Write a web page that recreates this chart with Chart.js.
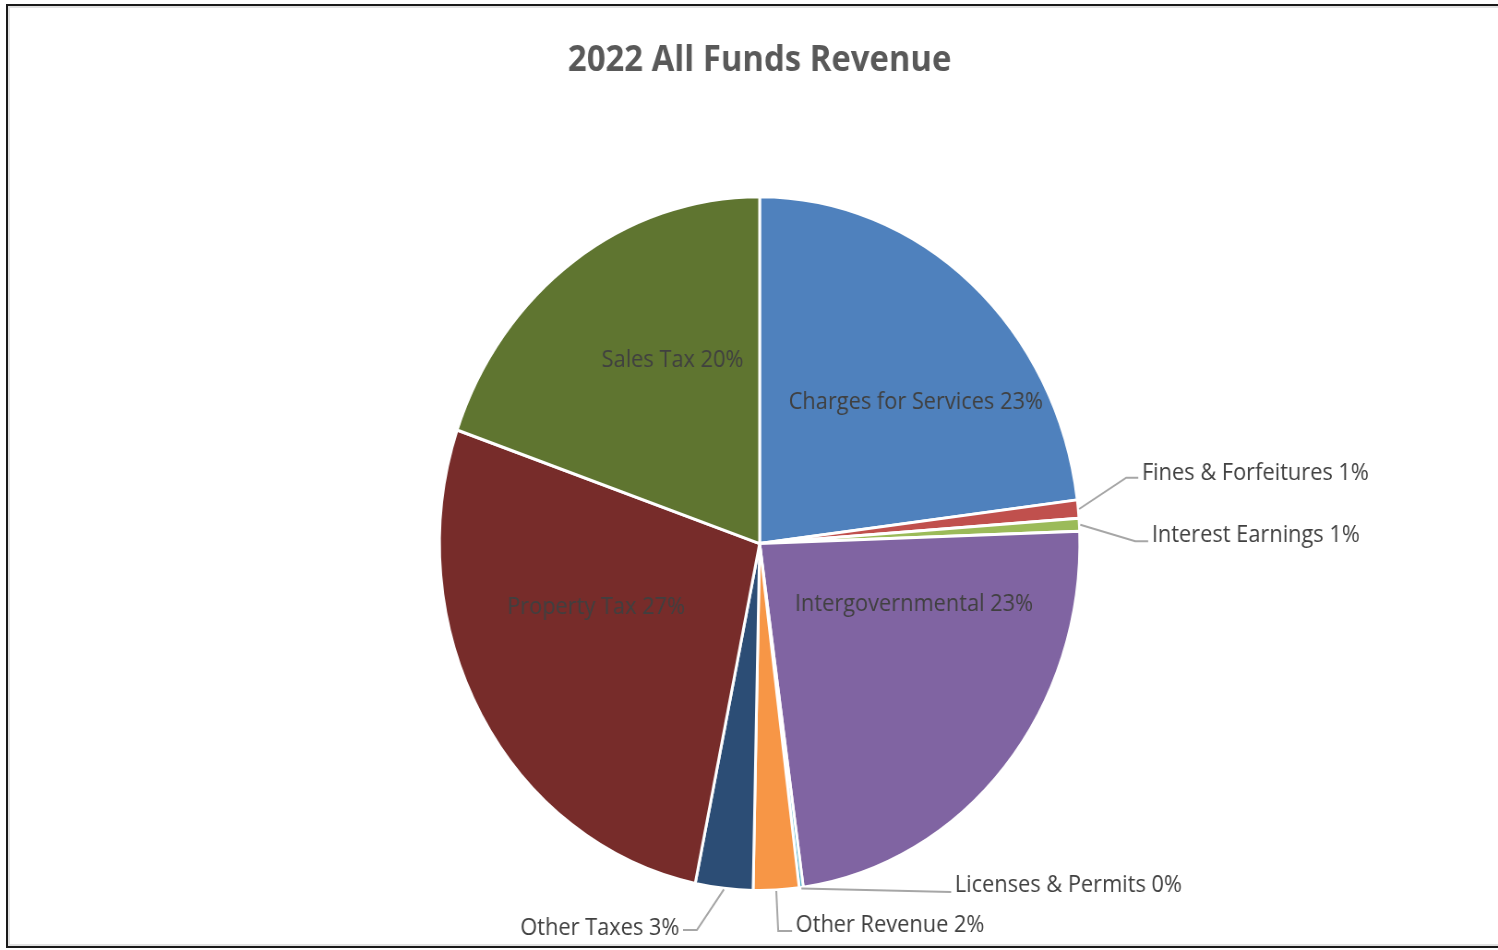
<!DOCTYPE html>
<html>
<head>
<meta charset="utf-8">
<title>2022 All Funds Revenue</title>
<script src="https://cdn.jsdelivr.net/npm/chart.js@4.4.1/dist/chart.umd.min.js"></script>
<style>
  html, body { margin: 0; padding: 0; background: #fff; overflow: hidden; }
  body { width: 1498px; height: 950px; position: relative; }
  .frame {
    position: absolute; left: 6px; top: 4px; width: 1600px; height: 944px;
    box-sizing: border-box; border: 2px solid #1a1a1a;
    box-shadow: inset 0 0 0 2px #e2e2e2;
  }
  #revenueChart {
    position: absolute; left: 0; top: 0;
    width: 1625px; height: 950px;
    transform: scaleX(0.923); transform-origin: 0 0;
  }
</style>
</head>
<body>
<div class="frame"></div>
<canvas id="revenueChart" width="1625" height="950"></canvas>
<script>
const categories = [
  'Charges for Services', 'Fines & Forfeitures', 'Interest Earnings', 'Intergovernmental',
  'Licenses & Permits', 'Other Revenue', 'Other Taxes', 'Property Tax', 'Sales Tax'
];
const values = [23.0, 0.85, 0.6, 23.4, 0.2, 2.3, 2.9, 27.1, 19.7];
const colors = ['#4F81BD', '#C0504D', '#9BBB59', '#8064A2', '#4BACC6', '#F79646', '#2C4D75', '#772C2A', '#5F7530'];

// where each label goes: inside slices (t along arc, r of radius) or outside with a leader line
const placements = [
  { inside: true, t: 0.6, r: 0.64 },
  { ex: 1.145, ey: -0.19, h: 13, dy: -7 },
  { ex: 1.173, ey: -0.007, h: 14, dy: -8 },
  { inside: true, t: 0.25, r: 0.51 },
  { ex: 0.598, ey: 1.004, h: 0, dy: -9 },
  { ex: 0.058, ey: 1.117, h: 15, dy: -8 },
  { ex: -0.196, ey: 1.114, h: -15, dy: -4 },
  { inside: true, t: 0.61, r: 0.54 },
  { inside: true, t: 0.62, r: 0.60 }
];

const sliceLabels = {
  id: 'sliceLabels',
  afterDatasetsDraw(chart) {
    const ctx = chart.ctx;
    const arcs = chart.getDatasetMeta(0).data;
    const total = values.reduce((a, b) => a + b, 0);
    const shift = 2.5; // text sits a touch below the em middle
    ctx.save();
    ctx.font = '23.6px "Open Sans"';
    ctx.fillStyle = '#404040';
    ctx.strokeStyle = '#A6A6A6';
    ctx.lineWidth = 2;
    ctx.textBaseline = 'middle';
    arcs.forEach((arc, i) => {
      const p = arc.getProps(['x', 'y', 'startAngle', 'endAngle', 'outerRadius'], true);
      const text = `${categories[i]} ${Math.round(values[i] / total * 100)}%`;
      const pl = placements[i];
      if (pl.inside) {
        const a = p.startAngle + pl.t * (p.endAngle - p.startAngle);
        const r = pl.r * p.outerRadius;
        ctx.textAlign = 'center';
        ctx.fillText(text, p.x + Math.cos(a) * r, p.y + Math.sin(a) * r + shift);
        return;
      }
      const mid = (p.startAngle + p.endAngle) / 2;
      const sx = p.x + Math.cos(mid) * (p.outerRadius + 1);
      const sy = p.y + Math.sin(mid) * (p.outerRadius + 1);
      const ex = p.x + pl.ex * p.outerRadius;
      const ey = p.y + pl.ey * p.outerRadius;
      const hx = ex + pl.h;
      ctx.beginPath();
      ctx.moveTo(sx, sy);
      ctx.lineTo(ex, ey);
      ctx.lineTo(hx, ey);
      ctx.stroke();
      const left = pl.h < 0;
      ctx.textAlign = left ? 'right' : 'left';
      ctx.fillText(text, hx + (left ? -4 : 4), ey + pl.dy + shift);
    });
    ctx.restore();
  }
};

new Chart(document.getElementById('revenueChart'), {
  type: 'pie',
  data: {
    labels: categories,
    datasets: [{
      data: values,
      backgroundColor: colors,
      borderColor: '#ffffff',
      borderWidth: 3
    }]
  },
  options: {
    responsive: false,
    animation: false,
    layout: { padding: { left: 21, right: 0, top: 0, bottom: 58 } },
    plugins: {
      legend: { display: false },
      tooltip: { enabled: false },
      title: {
        display: true,
        text: '2022 All Funds Revenue',
        color: '#595959',
        font: { family: 'Open Sans', size: 35.6, weight: 'bold', lineHeight: 1.2 },
        padding: { top: 39, bottom: 113.5 }
      }
    }
  },
  plugins: [sliceLabels]
});
</script>
</body>
</html>
